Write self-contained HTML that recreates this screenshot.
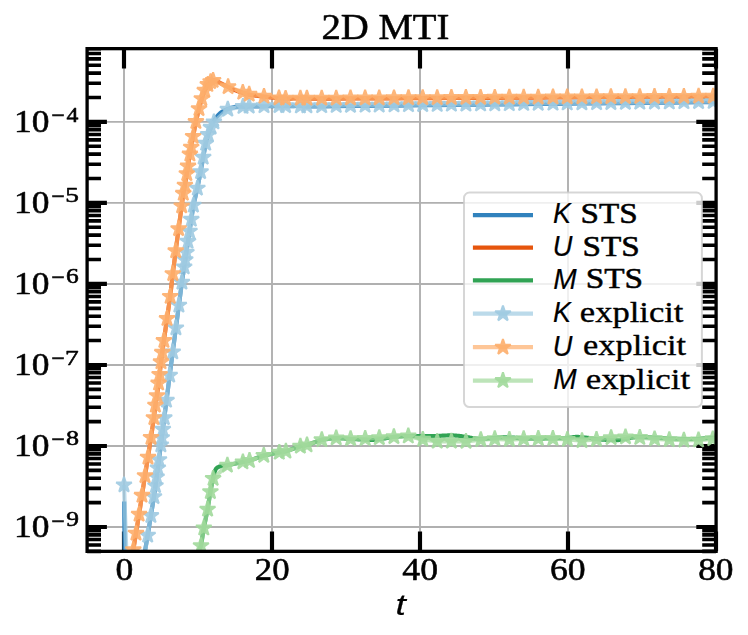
<!DOCTYPE html>
<html><head><meta charset="utf-8"><title>2D MTI</title>
<style>html,body{margin:0;padding:0;background:#fff}svg{display:block}</style></head><body>
<svg width="748" height="635" viewBox="0 0 748 635">
<rect width="748" height="635" fill="#fff"/>
<defs><clipPath id="ax"><rect x="87.1" y="48.65" width="629.0" height="502.70000000000005"/></clipPath></defs>
<path d="M124.00 48.65V551.35M272.00 48.65V551.35M420.00 48.65V551.35M568.00 48.65V551.35M716.00 48.65V551.35M87.1 527.00H716.1M87.1 445.98H716.1M87.1 364.96H716.1M87.1 283.94H716.1M87.1 202.92H716.1M87.1 121.90H716.1" stroke="#b0b0b0" stroke-width="1.9" fill="none"/>
<path d="M124.00 551.35v-19.8M124.00 48.65v19.8M272.00 551.35v-19.8M272.00 48.65v19.8M420.00 551.35v-19.8M420.00 48.65v19.8M568.00 551.35v-19.8M568.00 48.65v19.8M716.00 551.35v-19.8M716.00 48.65v19.8M87.1 527.00h19.8M716.1 527.00h-19.8M87.1 445.98h19.8M716.1 445.98h-19.8M87.1 364.96h19.8M716.1 364.96h-19.8M87.1 283.94h19.8M716.1 283.94h-19.8M87.1 202.92h19.8M716.1 202.92h-19.8M87.1 121.90h19.8M716.1 121.90h-19.8" stroke="#000" stroke-width="4.15" fill="none"/>
<path d="M87.1 551.39h13.9M716.1 551.39h-13.9M87.1 544.97h13.9M716.1 544.97h-13.9M87.1 539.55h13.9M716.1 539.55h-13.9M87.1 534.85h13.9M716.1 534.85h-13.9M87.1 530.71h13.9M716.1 530.71h-13.9M87.1 502.61h13.9M716.1 502.61h-13.9M87.1 488.34h13.9M716.1 488.34h-13.9M87.1 478.22h13.9M716.1 478.22h-13.9M87.1 470.37h13.9M716.1 470.37h-13.9M87.1 463.95h13.9M716.1 463.95h-13.9M87.1 458.53h13.9M716.1 458.53h-13.9M87.1 453.83h13.9M716.1 453.83h-13.9M87.1 449.69h13.9M716.1 449.69h-13.9M87.1 421.59h13.9M716.1 421.59h-13.9M87.1 407.32h13.9M716.1 407.32h-13.9M87.1 397.20h13.9M716.1 397.20h-13.9M87.1 389.35h13.9M716.1 389.35h-13.9M87.1 382.93h13.9M716.1 382.93h-13.9M87.1 377.51h13.9M716.1 377.51h-13.9M87.1 372.81h13.9M716.1 372.81h-13.9M87.1 368.67h13.9M716.1 368.67h-13.9M87.1 340.57h13.9M716.1 340.57h-13.9M87.1 326.30h13.9M716.1 326.30h-13.9M87.1 316.18h13.9M716.1 316.18h-13.9M87.1 308.33h13.9M716.1 308.33h-13.9M87.1 301.91h13.9M716.1 301.91h-13.9M87.1 296.49h13.9M716.1 296.49h-13.9M87.1 291.79h13.9M716.1 291.79h-13.9M87.1 287.65h13.9M716.1 287.65h-13.9M87.1 259.55h13.9M716.1 259.55h-13.9M87.1 245.28h13.9M716.1 245.28h-13.9M87.1 235.16h13.9M716.1 235.16h-13.9M87.1 227.31h13.9M716.1 227.31h-13.9M87.1 220.89h13.9M716.1 220.89h-13.9M87.1 215.47h13.9M716.1 215.47h-13.9M87.1 210.77h13.9M716.1 210.77h-13.9M87.1 206.63h13.9M716.1 206.63h-13.9M87.1 178.53h13.9M716.1 178.53h-13.9M87.1 164.26h13.9M716.1 164.26h-13.9M87.1 154.14h13.9M716.1 154.14h-13.9M87.1 146.29h13.9M716.1 146.29h-13.9M87.1 139.87h13.9M716.1 139.87h-13.9M87.1 134.45h13.9M716.1 134.45h-13.9M87.1 129.75h13.9M716.1 129.75h-13.9M87.1 125.61h13.9M716.1 125.61h-13.9M87.1 97.51h13.9M716.1 97.51h-13.9M87.1 83.24h13.9M716.1 83.24h-13.9M87.1 73.12h13.9M716.1 73.12h-13.9M87.1 65.27h13.9M716.1 65.27h-13.9M87.1 58.85h13.9M716.1 58.85h-13.9M87.1 53.43h13.9M716.1 53.43h-13.9M87.1 48.73h13.9M716.1 48.73h-13.9" stroke="#000" stroke-width="3.6" fill="none"/>
<g clip-path="url(#ax)" fill="none" stroke-linejoin="round">
<path d="M124.20 501.50L124.60 551.00L124.80 575.00L135.00 660.00L141.80 571.00L145.00 551.00L147.70 535.30L150.90 515.60L154.00 496.70L155.49 485.70L156.66 477.00L157.88 468.00L159.00 459.70L160.86 445.00L161.78 437.70L162.85 429.30L164.30 417.80L166.51 400.40L169.70 375.30L172.75 352.00L175.91 328.00L178.90 305.20L181.92 282.30L184.20 267.00L185.27 259.80L186.37 252.40L188.01 241.40L189.53 231.20L191.29 219.40L193.40 205.20L197.40 188.20L200.60 171.80L203.20 157.30L205.70 143.40L208.20 134.60L211.00 127.40L211.15 127.03L211.35 126.52L211.58 125.93L211.84 125.26L212.13 124.57L212.42 123.87L212.71 123.20L213.00 122.60L213.29 122.04L213.58 121.49L213.88 120.95L214.19 120.42L214.50 119.90L214.83 119.39L215.16 118.89L215.50 118.40L215.85 117.92L216.20 117.44L216.57 116.98L216.94 116.53L217.32 116.08L217.70 115.64L218.10 115.22L218.50 114.80L218.90 114.39L219.29 114.00L219.67 113.62L220.08 113.25L220.50 112.88L220.95 112.52L221.45 112.16L222.00 111.80L222.60 111.43L223.24 111.07L223.92 110.70L224.64 110.34L225.38 109.98L226.16 109.64L226.97 109.31L227.80 109.00L228.67 108.70L229.60 108.40L230.56 108.12L231.54 107.84L232.54 107.59L233.54 107.36L234.53 107.16L235.50 107.00L236.46 106.88L237.42 106.80L238.38 106.76L239.34 106.74L240.29 106.73L241.22 106.73L242.13 106.72L243.00 106.70L243.78 106.67L244.44 106.64L245.04 106.62L245.64 106.59L246.30 106.57L247.08 106.55L248.02 106.52L249.20 106.50L250.64 106.47L252.29 106.45L254.11 106.42L256.05 106.39L258.06 106.37L260.08 106.34L262.08 106.32L264.00 106.30L265.82 106.28L267.59 106.27L269.33 106.26L271.09 106.25L272.90 106.24L274.80 106.23L276.82 106.22L279.00 106.20L281.52 106.18L284.40 106.15L287.50 106.12L290.64 106.09L293.66 106.06L296.40 106.04L298.71 106.02L300.40 106.00L306.90 106.49L321.70 106.33L336.20 106.17L350.50 106.02L365.10 105.86L379.20 105.71L394.00 105.55L408.50 105.39L422.70 105.24L437.20 105.08L451.40 104.93L465.90 104.77L480.60 104.61L494.80 104.46L509.30 104.30L523.70 104.15L538.20 103.99L553.00 103.83L567.20 103.68L581.90 103.52L596.60 103.36L610.90 103.20L625.40 103.05L639.80 102.89L654.50 102.73L669.30 102.57L683.90 102.42L698.60 102.26L713.20 102.10L727.80 101.94" stroke="#3182bd" stroke-width="4.17"/>
<path d="M124.60 600.00L127.90 575.00L130.60 556.00L133.30 549.80L136.00 533.20L139.10 514.30L142.00 495.40L145.00 475.70L148.00 457.20L151.00 437.50L153.90 417.80L155.40 405.20L157.00 395.70L158.60 383.10L159.60 374.50L161.00 361.90L162.30 352.40L163.90 340.60L167.00 318.60L170.20 296.50L172.80 273.70L175.70 250.90L178.60 228.80L181.70 206.00L183.30 193.40L184.90 185.20L186.80 173.70L188.00 166.10L189.90 154.10L191.20 147.20L193.10 136.50L195.90 121.60L199.00 108.70L201.80 98.70L204.80 90.40L207.80 84.60L210.60 81.70L210.60 81.80L210.76 81.68L210.96 81.52L211.21 81.32L211.49 81.11L211.78 80.89L212.07 80.69L212.35 80.52L212.60 80.40L212.83 80.32L213.05 80.25L213.25 80.21L213.46 80.19L213.68 80.19L213.90 80.20L214.14 80.24L214.40 80.30L214.68 80.39L214.98 80.50L215.29 80.64L215.61 80.80L215.94 80.97L216.28 81.15L216.64 81.33L217.00 81.50L217.35 81.66L217.67 81.80L217.99 81.93L218.32 82.08L218.70 82.24L219.14 82.44L219.67 82.69L220.30 83.00L221.06 83.39L221.95 83.84L222.92 84.35L223.96 84.89L225.02 85.44L226.09 85.99L227.12 86.52L228.10 87.00L229.03 87.45L229.94 87.89L230.83 88.32L231.72 88.74L232.60 89.14L233.49 89.54L234.39 89.93L235.30 90.30L236.23 90.66L237.18 91.02L238.14 91.37L239.10 91.70L240.05 92.02L241.00 92.33L241.91 92.62L242.80 92.90L243.65 93.16L244.46 93.40L245.24 93.63L246.01 93.84L246.78 94.04L247.56 94.23L248.36 94.42L249.20 94.60L250.07 94.78L250.96 94.94L251.86 95.10L252.78 95.25L253.71 95.39L254.64 95.53L255.57 95.67L256.50 95.80L257.43 95.93L258.36 96.05L259.30 96.16L260.24 96.28L261.18 96.38L262.12 96.49L263.06 96.59L264.00 96.70L264.94 96.81L265.88 96.91L266.81 97.01L267.75 97.11L268.69 97.21L269.62 97.31L270.56 97.41L271.50 97.50L272.44 97.59L273.40 97.69L274.35 97.78L275.31 97.88L276.25 97.96L277.19 98.05L278.11 98.13L279.00 98.20L279.81 98.27L280.52 98.34L281.18 98.40L281.84 98.46L282.56 98.51L283.39 98.55L284.39 98.58L285.60 98.60L287.16 98.60L289.07 98.59L291.20 98.56L293.41 98.52L295.57 98.49L297.55 98.45L299.20 98.42L300.40 98.40L306.90 98.74L321.70 98.67L336.20 98.59L350.50 98.52L365.10 98.45L379.20 98.38L394.00 98.31L408.50 98.23L422.70 98.16L437.20 98.09L451.40 98.02L465.90 97.95L480.60 97.87L494.80 97.80L509.30 97.73L523.70 97.66L538.20 97.58L553.00 97.51L567.20 97.44L581.90 97.37L596.60 97.29L610.90 97.22L625.40 97.15L639.80 97.08L654.50 97.00L669.30 96.93L683.90 96.86L698.60 96.78L713.20 96.71L727.80 96.64" stroke="#e6550d" stroke-width="4.17"/>
<path d="M196.20 570.00L198.75 551.00L201.00 545.70L203.80 528.10L207.60 509.30L210.40 491.70L213.10 478.50L213.10 478.50L213.20 478.07L213.32 477.49L213.47 476.79L213.64 476.03L213.82 475.22L214.01 474.43L214.20 473.67L214.40 473.00L214.59 472.38L214.77 471.77L214.95 471.17L215.14 470.59L215.36 470.04L215.60 469.52L215.88 469.04L216.20 468.60L216.55 468.21L216.92 467.87L217.32 467.57L217.75 467.29L218.22 467.05L218.75 466.82L219.34 466.61L220.00 466.40L220.80 466.20L221.77 466.02L222.84 465.86L223.94 465.71L225.01 465.58L225.99 465.47L226.80 465.38L227.40 465.30L242.90 462.00L249.50 460.60L263.80 455.50L279.30 452.40L285.90 451.20L300.40 446.30L307.00 445.00L321.80 439.80L322.91 439.66L324.39 439.46L326.15 439.21L328.10 438.95L330.17 438.69L332.26 438.47L334.30 438.30L336.20 438.20L338.00 438.19L339.80 438.24L341.59 438.33L343.39 438.46L345.19 438.61L346.99 438.76L348.79 438.89L350.60 439.00L352.47 439.09L354.42 439.17L356.40 439.25L358.38 439.33L360.29 439.41L362.09 439.48L363.75 439.54L365.20 439.60L366.42 439.66L367.44 439.72L368.30 439.77L369.06 439.83L369.76 439.87L370.45 439.90L371.18 439.91L372.00 439.90L372.89 439.87L373.80 439.82L374.73 439.76L375.66 439.69L376.58 439.60L377.51 439.51L378.41 439.41L379.30 439.30L380.16 439.19L380.99 439.06L381.80 438.93L382.61 438.79L383.43 438.65L384.25 438.50L385.11 438.35L386.00 438.20L386.89 438.04L387.74 437.88L388.59 437.71L389.47 437.54L390.41 437.37L391.44 437.20L392.59 437.04L393.90 436.90L395.44 436.76L397.22 436.62L399.16 436.48L401.17 436.36L403.18 436.24L405.09 436.14L406.82 436.06L408.30 436.00L409.50 435.97L410.49 435.98L411.33 436.01L412.06 436.05L412.75 436.10L413.43 436.15L414.16 436.18L415.00 436.20L415.93 436.20L416.89 436.19L417.87 436.18L418.87 436.16L419.87 436.14L420.87 436.12L421.85 436.11L422.80 436.10L423.73 436.10L424.65 436.10L425.55 436.10L426.45 436.10L427.34 436.10L428.23 436.10L429.11 436.10L430.00 436.10L430.88 436.09L431.76 436.09L432.64 436.08L433.51 436.08L434.38 436.06L435.25 436.05L436.13 436.03L437.00 436.00L437.87 435.96L438.74 435.92L439.60 435.86L440.47 435.81L441.34 435.75L442.21 435.69L443.10 435.64L444.00 435.60L444.92 435.56L445.86 435.52L446.82 435.48L447.78 435.45L448.74 435.42L449.68 435.40L450.61 435.39L451.50 435.40L452.35 435.42L453.16 435.44L453.94 435.48L454.71 435.52L455.49 435.57L456.29 435.64L457.12 435.71L458.00 435.80L458.94 435.90L459.94 436.02L460.97 436.15L462.02 436.29L463.08 436.44L464.12 436.59L465.13 436.75L466.10 436.90L467.02 437.06L467.89 437.22L468.74 437.40L469.58 437.57L470.41 437.75L471.25 437.91L472.11 438.06L473.00 438.20L473.92 438.32L474.88 438.44L475.85 438.55L476.83 438.65L477.81 438.74L478.77 438.81L479.70 438.86L480.60 438.90L481.45 438.91L482.25 438.90L483.03 438.88L483.79 438.84L484.55 438.79L485.33 438.73L486.14 438.66L487.00 438.60L487.91 438.53L488.87 438.45L489.85 438.36L490.85 438.26L491.86 438.17L492.86 438.07L493.84 437.98L494.80 437.90L495.73 437.82L496.64 437.75L497.54 437.68L498.43 437.61L499.31 437.54L500.20 437.49L501.09 437.44L502.00 437.40L502.92 437.37L503.85 437.36L504.80 437.35L505.74 437.34L506.67 437.35L507.60 437.36L508.51 437.38L509.40 437.40L510.26 437.43L511.08 437.46L511.89 437.51L512.68 437.56L513.48 437.61L514.29 437.67L515.13 437.73L516.00 437.80L516.86 437.88L517.69 437.97L518.50 438.07L519.35 438.17L520.26 438.27L521.26 438.36L522.40 438.44L523.70 438.50L525.19 438.54L526.86 438.57L528.67 438.59L530.57 438.61L532.52 438.61L534.49 438.61L536.43 438.61L538.30 438.60L540.13 438.59L541.95 438.58L543.78 438.56L545.61 438.54L547.43 438.51L549.26 438.48L551.08 438.44L552.90 438.40L554.75 438.36L556.65 438.31L558.56 438.26L560.46 438.20L562.33 438.14L564.12 438.07L565.82 437.99L567.40 437.90L568.83 437.79L570.14 437.64L571.34 437.48L572.48 437.31L573.59 437.16L574.69 437.03L575.81 436.94L577.00 436.90L578.23 436.92L579.48 436.98L580.74 437.09L582.01 437.21L583.27 437.36L584.53 437.51L585.77 437.66L587.00 437.80L588.21 437.94L589.41 438.09L590.60 438.25L591.78 438.41L592.96 438.57L594.14 438.72L595.32 438.87L596.50 439.00L597.67 439.12L598.82 439.24L599.95 439.35L601.09 439.46L602.25 439.55L603.45 439.64L604.69 439.73L606.00 439.80L607.41 439.87L608.93 439.94L610.51 440.01L612.12 440.07L613.72 440.11L615.26 440.14L616.70 440.13L618.00 440.10L619.16 440.03L620.21 439.93L621.19 439.80L622.09 439.66L622.96 439.50L623.80 439.33L624.64 439.16L625.50 439.00L626.35 438.84L627.16 438.66L627.95 438.47L628.73 438.28L629.51 438.09L630.31 437.91L631.13 437.75L632.00 437.60L632.97 437.47L634.04 437.34L635.17 437.22L636.31 437.11L637.39 437.02L638.37 436.93L639.19 436.86L639.80 436.80L654.60 437.70L669.30 438.50L683.90 439.00L698.50 438.90L712.80 437.70L727.40 437.00" stroke="#31a354" stroke-width="4.17"/>
<path d="M124.00 485.00L126.30 551.00L127.00 571.00L135.00 660.00L141.80 571.00L147.70 535.30L150.90 515.60L154.00 496.70L155.49 485.70L156.66 477.00L157.88 468.00L159.00 459.70L160.86 445.00L161.78 437.70L162.85 429.30L164.30 417.80L166.51 400.40L169.70 375.30L172.75 352.00L175.91 328.00L178.90 305.20L181.92 282.30L184.20 267.00L185.27 259.80L186.37 252.40L188.01 241.40L189.53 231.20L191.29 219.40L193.40 205.20L197.40 188.20L200.60 171.80L203.20 157.30L205.70 143.40L208.20 134.60L211.00 127.40L213.90 122.00L227.80 109.30L243.00 106.60L249.20 106.20L264.00 105.90L279.00 105.80L285.60 105.80L300.40 106.06L306.90 105.99L321.70 105.83L336.20 105.67L350.50 105.52L365.10 105.36L379.20 105.21L394.00 105.05L408.50 104.89L422.70 104.74L437.20 104.58L451.40 104.43L465.90 104.27L480.60 104.11L494.80 103.96L509.30 103.80L523.70 103.65L538.20 103.49L553.00 103.33L567.20 103.18L581.90 103.02L596.60 102.86L610.90 102.70L625.40 102.55L639.80 102.39L654.50 102.23L669.30 102.07L683.90 101.92L698.60 101.76L713.20 101.60L727.80 101.44" stroke="#9ecae1" stroke-width="4.17" stroke-opacity="0.7"/>
<path d="M124.95 476.49L123.05 476.49L121.43 481.47L116.20 481.47L115.61 483.28L119.85 486.35L118.23 491.32L119.77 492.44L124.00 489.37L128.23 492.44L129.77 491.32L128.15 486.35L132.39 483.28L131.80 481.47L126.57 481.47Z" fill="#9ecae1" fill-opacity="0.9" stroke="none"/>
<path d="M148.65 526.79L146.75 526.79L145.13 531.77L139.90 531.77L139.31 533.58L143.55 536.65L141.93 541.62L143.47 542.74L147.70 539.67L151.93 542.74L153.47 541.62L151.85 536.65L156.09 533.58L155.50 531.77L150.27 531.77Z" fill="#9ecae1" fill-opacity="0.9" stroke="none"/>
<path d="M151.85 507.09L149.95 507.09L148.33 512.07L143.10 512.07L142.51 513.88L146.75 516.95L145.13 521.92L146.67 523.04L150.90 519.97L155.13 523.04L156.67 521.92L155.05 516.95L159.29 513.88L158.70 512.07L153.47 512.07Z" fill="#9ecae1" fill-opacity="0.9" stroke="none"/>
<path d="M154.95 488.19L153.05 488.19L151.43 493.17L146.20 493.17L145.61 494.98L149.85 498.05L148.23 503.02L149.77 504.14L154.00 501.07L158.23 504.14L159.77 503.02L158.15 498.05L162.39 494.98L161.80 493.17L156.57 493.17Z" fill="#9ecae1" fill-opacity="0.9" stroke="none"/>
<path d="M156.44 477.19L154.54 477.19L152.92 482.17L147.69 482.17L147.10 483.98L151.33 487.05L149.72 492.02L151.25 493.14L155.49 490.07L159.72 493.14L161.26 492.02L159.64 487.05L163.87 483.98L163.29 482.17L158.05 482.17Z" fill="#9ecae1" fill-opacity="0.9" stroke="none"/>
<path d="M157.61 468.49L155.71 468.49L154.09 473.47L148.86 473.47L148.28 475.28L152.51 478.35L150.89 483.32L152.43 484.44L156.66 481.37L160.89 484.44L162.43 483.32L160.82 478.35L165.05 475.28L164.46 473.47L159.23 473.47Z" fill="#9ecae1" fill-opacity="0.9" stroke="none"/>
<path d="M158.83 459.49L156.93 459.49L155.31 464.47L150.08 464.47L149.49 466.28L153.72 469.35L152.11 474.32L153.65 475.44L157.88 472.37L162.11 475.44L163.65 474.32L162.03 469.35L166.26 466.28L165.68 464.47L160.45 464.47Z" fill="#9ecae1" fill-opacity="0.9" stroke="none"/>
<path d="M159.95 451.19L158.05 451.19L156.43 456.17L151.20 456.17L150.61 457.98L154.85 461.05L153.23 466.02L154.77 467.14L159.00 464.07L163.23 467.14L164.77 466.02L163.15 461.05L167.39 457.98L166.80 456.17L161.57 456.17Z" fill="#9ecae1" fill-opacity="0.9" stroke="none"/>
<path d="M161.81 436.49L159.91 436.49L158.29 441.47L153.06 441.47L152.47 443.28L156.71 446.35L155.09 451.32L156.63 452.44L160.86 449.37L165.09 452.44L166.63 451.32L165.01 446.35L169.25 443.28L168.66 441.47L163.43 441.47Z" fill="#9ecae1" fill-opacity="0.9" stroke="none"/>
<path d="M162.73 429.19L160.83 429.19L159.22 434.17L153.98 434.17L153.40 435.98L157.63 439.05L156.01 444.02L157.55 445.14L161.78 442.07L166.01 445.14L167.55 444.02L165.94 439.05L170.17 435.98L169.58 434.17L164.35 434.17Z" fill="#9ecae1" fill-opacity="0.9" stroke="none"/>
<path d="M163.80 420.79L161.89 420.79L160.28 425.77L155.05 425.77L154.46 427.58L158.69 430.65L157.07 435.62L158.61 436.74L162.85 433.67L167.08 436.74L168.62 435.62L167.00 430.65L171.23 427.58L170.64 425.77L165.41 425.77Z" fill="#9ecae1" fill-opacity="0.9" stroke="none"/>
<path d="M165.25 409.29L163.35 409.29L161.73 414.27L156.50 414.27L155.91 416.08L160.15 419.15L158.53 424.12L160.07 425.24L164.30 422.17L168.53 425.24L170.07 424.12L168.45 419.15L172.69 416.08L172.10 414.27L166.87 414.27Z" fill="#9ecae1" fill-opacity="0.9" stroke="none"/>
<path d="M167.46 391.89L165.56 391.89L163.94 396.87L158.71 396.87L158.12 398.68L162.36 401.75L160.74 406.72L162.28 407.84L166.51 404.77L170.74 407.84L172.28 406.72L170.66 401.75L174.90 398.68L174.31 396.87L169.08 396.87Z" fill="#9ecae1" fill-opacity="0.9" stroke="none"/>
<path d="M170.65 366.79L168.75 366.79L167.13 371.77L161.90 371.77L161.31 373.58L165.54 376.65L163.93 381.62L165.47 382.74L169.70 379.67L173.93 382.74L175.47 381.62L173.85 376.65L178.08 373.58L177.50 371.77L172.27 371.77Z" fill="#9ecae1" fill-opacity="0.9" stroke="none"/>
<path d="M173.71 343.49L171.80 343.49L170.19 348.47L164.96 348.47L164.37 350.28L168.60 353.35L166.98 358.32L168.52 359.44L172.75 356.37L176.99 359.44L178.52 358.32L176.91 353.35L181.14 350.28L180.55 348.47L175.32 348.47Z" fill="#9ecae1" fill-opacity="0.9" stroke="none"/>
<path d="M176.86 319.49L174.95 319.49L173.34 324.47L168.11 324.47L167.52 326.28L171.75 329.35L170.13 334.32L171.67 335.44L175.91 332.37L180.14 335.44L181.68 334.32L180.06 329.35L184.29 326.28L183.70 324.47L178.47 324.47Z" fill="#9ecae1" fill-opacity="0.9" stroke="none"/>
<path d="M179.85 296.69L177.95 296.69L176.33 301.67L171.10 301.67L170.51 303.48L174.74 306.55L173.13 311.52L174.67 312.64L178.90 309.57L183.13 312.64L184.67 311.52L183.05 306.55L187.28 303.48L186.70 301.67L181.47 301.67Z" fill="#9ecae1" fill-opacity="0.9" stroke="none"/>
<path d="M182.87 273.79L180.97 273.79L179.35 278.77L174.12 278.77L173.53 280.58L177.76 283.65L176.15 288.62L177.69 289.74L181.92 286.67L186.15 289.74L187.69 288.62L186.07 283.65L190.31 280.58L189.72 278.77L184.49 278.77Z" fill="#9ecae1" fill-opacity="0.9" stroke="none"/>
<path d="M185.15 258.49L183.25 258.49L181.63 263.47L176.40 263.47L175.81 265.28L180.04 268.35L178.43 273.32L179.97 274.44L184.20 271.37L188.43 274.44L189.97 273.32L188.35 268.35L192.58 265.28L192.00 263.47L186.76 263.47Z" fill="#9ecae1" fill-opacity="0.9" stroke="none"/>
<path d="M186.22 251.29L184.32 251.29L182.70 256.27L177.47 256.27L176.88 258.08L181.12 261.15L179.50 266.12L181.04 267.24L185.27 264.17L189.50 267.24L191.04 266.12L189.42 261.15L193.66 258.08L193.07 256.27L187.84 256.27Z" fill="#9ecae1" fill-opacity="0.9" stroke="none"/>
<path d="M187.32 243.89L185.42 243.89L183.80 248.87L178.57 248.87L177.99 250.68L182.22 253.75L180.60 258.72L182.14 259.84L186.37 256.77L190.60 259.84L192.14 258.72L190.53 253.75L194.76 250.68L194.17 248.87L188.94 248.87Z" fill="#9ecae1" fill-opacity="0.9" stroke="none"/>
<path d="M188.96 232.89L187.06 232.89L185.44 237.87L180.21 237.87L179.62 239.68L183.86 242.75L182.24 247.72L183.78 248.84L188.01 245.77L192.24 248.84L193.78 247.72L192.16 242.75L196.40 239.68L195.81 237.87L190.58 237.87Z" fill="#9ecae1" fill-opacity="0.9" stroke="none"/>
<path d="M190.48 222.69L188.58 222.69L186.96 227.67L181.73 227.67L181.14 229.48L185.37 232.55L183.76 237.52L185.30 238.64L189.53 235.57L193.76 238.64L195.30 237.52L193.68 232.55L197.91 229.48L197.33 227.67L192.10 227.67Z" fill="#9ecae1" fill-opacity="0.9" stroke="none"/>
<path d="M192.24 210.89L190.33 210.89L188.72 215.87L183.49 215.87L182.90 217.68L187.13 220.75L185.51 225.72L187.05 226.84L191.29 223.77L195.52 226.84L197.06 225.72L195.44 220.75L199.67 217.68L199.08 215.87L193.85 215.87Z" fill="#9ecae1" fill-opacity="0.9" stroke="none"/>
<path d="M194.35 196.69L192.45 196.69L190.83 201.67L185.60 201.67L185.01 203.48L189.25 206.55L187.63 211.52L189.17 212.64L193.40 209.57L197.63 212.64L199.17 211.52L197.55 206.55L201.79 203.48L201.20 201.67L195.97 201.67Z" fill="#9ecae1" fill-opacity="0.9" stroke="none"/>
<path d="M198.35 179.69L196.45 179.69L194.83 184.67L189.60 184.67L189.01 186.48L193.25 189.55L191.63 194.52L193.17 195.64L197.40 192.57L201.63 195.64L203.17 194.52L201.55 189.55L205.79 186.48L205.20 184.67L199.97 184.67Z" fill="#9ecae1" fill-opacity="0.9" stroke="none"/>
<path d="M201.55 163.29L199.65 163.29L198.03 168.27L192.80 168.27L192.21 170.08L196.45 173.15L194.83 178.12L196.37 179.24L200.60 176.17L204.83 179.24L206.37 178.12L204.75 173.15L208.99 170.08L208.40 168.27L203.17 168.27Z" fill="#9ecae1" fill-opacity="0.9" stroke="none"/>
<path d="M204.15 148.79L202.25 148.79L200.63 153.77L195.40 153.77L194.81 155.58L199.05 158.65L197.43 163.62L198.97 164.74L203.20 161.67L207.43 164.74L208.97 163.62L207.35 158.65L211.59 155.58L211.00 153.77L205.77 153.77Z" fill="#9ecae1" fill-opacity="0.9" stroke="none"/>
<path d="M206.65 134.89L204.75 134.89L203.13 139.87L197.90 139.87L197.31 141.68L201.55 144.75L199.93 149.72L201.47 150.84L205.70 147.77L209.93 150.84L211.47 149.72L209.85 144.75L214.09 141.68L213.50 139.87L208.27 139.87Z" fill="#9ecae1" fill-opacity="0.9" stroke="none"/>
<path d="M209.15 126.09L207.25 126.09L205.63 131.07L200.40 131.07L199.81 132.88L204.05 135.95L202.43 140.92L203.97 142.04L208.20 138.97L212.43 142.04L213.97 140.92L212.35 135.95L216.59 132.88L216.00 131.07L210.77 131.07Z" fill="#9ecae1" fill-opacity="0.9" stroke="none"/>
<path d="M211.95 118.89L210.05 118.89L208.43 123.87L203.20 123.87L202.61 125.68L206.85 128.75L205.23 133.72L206.77 134.84L211.00 131.77L215.23 134.84L216.77 133.72L215.15 128.75L219.39 125.68L218.80 123.87L213.57 123.87Z" fill="#9ecae1" fill-opacity="0.9" stroke="none"/>
<path d="M214.85 113.49L212.95 113.49L211.33 118.47L206.10 118.47L205.51 120.28L209.75 123.35L208.13 128.32L209.67 129.44L213.90 126.37L218.13 129.44L219.67 128.32L218.05 123.35L222.29 120.28L221.70 118.47L216.47 118.47Z" fill="#9ecae1" fill-opacity="0.9" stroke="none"/>
<path d="M228.75 100.79L226.85 100.79L225.23 105.77L220.00 105.77L219.41 107.58L223.65 110.65L222.03 115.62L223.57 116.74L227.80 113.67L232.03 116.74L233.57 115.62L231.95 110.65L236.19 107.58L235.60 105.77L230.37 105.77Z" fill="#9ecae1" fill-opacity="0.9" stroke="none"/>
<path d="M243.95 98.09L242.05 98.09L240.43 103.07L235.20 103.07L234.61 104.88L238.85 107.95L237.23 112.92L238.77 114.04L243.00 110.97L247.23 114.04L248.77 112.92L247.15 107.95L251.39 104.88L250.80 103.07L245.57 103.07Z" fill="#9ecae1" fill-opacity="0.9" stroke="none"/>
<path d="M250.15 97.69L248.25 97.69L246.63 102.67L241.40 102.67L240.81 104.48L245.05 107.55L243.43 112.52L244.97 113.64L249.20 110.57L253.43 113.64L254.97 112.52L253.35 107.55L257.59 104.48L257.00 102.67L251.77 102.67Z" fill="#9ecae1" fill-opacity="0.9" stroke="none"/>
<path d="M264.95 97.39L263.05 97.39L261.43 102.37L256.20 102.37L255.61 104.18L259.85 107.25L258.23 112.22L259.77 113.34L264.00 110.27L268.23 113.34L269.77 112.22L268.15 107.25L272.39 104.18L271.80 102.37L266.57 102.37Z" fill="#9ecae1" fill-opacity="0.9" stroke="none"/>
<path d="M279.95 97.29L278.05 97.29L276.43 102.27L271.20 102.27L270.61 104.08L274.85 107.15L273.23 112.12L274.77 113.24L279.00 110.17L283.23 113.24L284.77 112.12L283.15 107.15L287.39 104.08L286.80 102.27L281.57 102.27Z" fill="#9ecae1" fill-opacity="0.9" stroke="none"/>
<path d="M286.55 97.29L284.65 97.29L283.03 102.27L277.80 102.27L277.21 104.08L281.45 107.15L279.83 112.12L281.37 113.24L285.60 110.17L289.83 113.24L291.37 112.12L289.75 107.15L293.99 104.08L293.40 102.27L288.17 102.27Z" fill="#9ecae1" fill-opacity="0.9" stroke="none"/>
<path d="M301.35 97.55L299.45 97.55L297.83 102.52L292.60 102.52L292.01 104.33L296.25 107.41L294.63 112.38L296.17 113.50L300.40 110.43L304.63 113.50L306.17 112.38L304.55 107.41L308.79 104.33L308.20 102.52L302.97 102.52Z" fill="#9ecae1" fill-opacity="0.9" stroke="none"/>
<path d="M307.85 97.48L305.95 97.48L304.33 102.45L299.10 102.45L298.51 104.26L302.75 107.34L301.13 112.31L302.67 113.43L306.90 110.36L311.13 113.43L312.67 112.31L311.05 107.34L315.29 104.26L314.70 102.45L309.47 102.45Z" fill="#9ecae1" fill-opacity="0.9" stroke="none"/>
<path d="M322.65 97.32L320.75 97.32L319.13 102.29L313.90 102.29L313.31 104.10L317.55 107.18L315.93 112.15L317.47 113.27L321.70 110.20L325.93 113.27L327.47 112.15L325.85 107.18L330.09 104.10L329.50 102.29L324.27 102.29Z" fill="#9ecae1" fill-opacity="0.9" stroke="none"/>
<path d="M337.15 97.16L335.25 97.16L333.63 102.14L328.40 102.14L327.81 103.95L332.05 107.02L330.43 112.00L331.97 113.11L336.20 110.04L340.43 113.11L341.97 112.00L340.35 107.02L344.59 103.95L344.00 102.14L338.77 102.14Z" fill="#9ecae1" fill-opacity="0.9" stroke="none"/>
<path d="M351.45 97.01L349.55 97.01L347.93 101.98L342.70 101.98L342.11 103.79L346.35 106.87L344.73 111.84L346.27 112.96L350.50 109.88L354.73 112.96L356.27 111.84L354.65 106.87L358.89 103.79L358.30 101.98L353.07 101.98Z" fill="#9ecae1" fill-opacity="0.9" stroke="none"/>
<path d="M366.05 96.85L364.15 96.85L362.53 101.82L357.30 101.82L356.71 103.63L360.95 106.71L359.33 111.68L360.87 112.80L365.10 109.73L369.33 112.80L370.87 111.68L369.25 106.71L373.49 103.63L372.90 101.82L367.67 101.82Z" fill="#9ecae1" fill-opacity="0.9" stroke="none"/>
<path d="M380.15 96.70L378.25 96.70L376.63 101.67L371.40 101.67L370.81 103.48L375.05 106.56L373.43 111.53L374.97 112.65L379.20 109.57L383.43 112.65L384.97 111.53L383.35 106.56L387.59 103.48L387.00 101.67L381.77 101.67Z" fill="#9ecae1" fill-opacity="0.9" stroke="none"/>
<path d="M394.95 96.54L393.05 96.54L391.43 101.51L386.20 101.51L385.61 103.32L389.85 106.40L388.23 111.37L389.77 112.49L394.00 109.41L398.23 112.49L399.77 111.37L398.15 106.40L402.39 103.32L401.80 101.51L396.57 101.51Z" fill="#9ecae1" fill-opacity="0.9" stroke="none"/>
<path d="M409.45 96.38L407.55 96.38L405.93 101.36L400.70 101.36L400.11 103.17L404.35 106.24L402.73 111.22L404.27 112.33L408.50 109.26L412.73 112.33L414.27 111.22L412.65 106.24L416.89 103.17L416.30 101.36L411.07 101.36Z" fill="#9ecae1" fill-opacity="0.9" stroke="none"/>
<path d="M423.65 96.23L421.75 96.23L420.13 101.20L414.90 101.20L414.31 103.01L418.55 106.09L416.93 111.06L418.47 112.18L422.70 109.11L426.93 112.18L428.47 111.06L426.85 106.09L431.09 103.01L430.50 101.20L425.27 101.20Z" fill="#9ecae1" fill-opacity="0.9" stroke="none"/>
<path d="M438.15 96.07L436.25 96.07L434.63 101.05L429.40 101.05L428.81 102.86L433.05 105.93L431.43 110.91L432.97 112.02L437.20 108.95L441.43 112.02L442.97 110.91L441.35 105.93L445.59 102.86L445.00 101.05L439.77 101.05Z" fill="#9ecae1" fill-opacity="0.9" stroke="none"/>
<path d="M452.35 95.92L450.45 95.92L448.83 100.89L443.60 100.89L443.01 102.70L447.25 105.78L445.63 110.75L447.17 111.87L451.40 108.80L455.63 111.87L457.17 110.75L455.55 105.78L459.79 102.70L459.20 100.89L453.97 100.89Z" fill="#9ecae1" fill-opacity="0.9" stroke="none"/>
<path d="M466.85 95.76L464.95 95.76L463.33 100.74L458.10 100.74L457.51 102.55L461.75 105.62L460.13 110.60L461.67 111.71L465.90 108.64L470.13 111.71L471.67 110.60L470.05 105.62L474.29 102.55L473.70 100.74L468.47 100.74Z" fill="#9ecae1" fill-opacity="0.9" stroke="none"/>
<path d="M481.55 95.60L479.65 95.60L478.03 100.58L472.80 100.58L472.21 102.39L476.45 105.46L474.83 110.44L476.37 111.55L480.60 108.48L484.83 111.55L486.37 110.44L484.75 105.46L488.99 102.39L488.40 100.58L483.17 100.58Z" fill="#9ecae1" fill-opacity="0.9" stroke="none"/>
<path d="M495.75 95.45L493.85 95.45L492.23 100.42L487.00 100.42L486.41 102.23L490.65 105.31L489.03 110.28L490.57 111.40L494.80 108.33L499.03 111.40L500.57 110.28L498.95 105.31L503.19 102.23L502.60 100.42L497.37 100.42Z" fill="#9ecae1" fill-opacity="0.9" stroke="none"/>
<path d="M510.25 95.29L508.35 95.29L506.73 100.27L501.50 100.27L500.91 102.08L505.15 105.15L503.53 110.13L505.07 111.24L509.30 108.17L513.53 111.24L515.07 110.13L513.45 105.15L517.69 102.08L517.10 100.27L511.87 100.27Z" fill="#9ecae1" fill-opacity="0.9" stroke="none"/>
<path d="M524.65 95.14L522.75 95.14L521.13 100.11L515.90 100.11L515.31 101.92L519.55 105.00L517.93 109.97L519.47 111.09L523.70 108.01L527.93 111.09L529.47 109.97L527.85 105.00L532.09 101.92L531.50 100.11L526.27 100.11Z" fill="#9ecae1" fill-opacity="0.9" stroke="none"/>
<path d="M539.15 94.98L537.25 94.98L535.63 99.96L530.40 99.96L529.81 101.76L534.05 104.84L532.43 109.81L533.97 110.93L538.20 107.86L542.43 110.93L543.97 109.81L542.35 104.84L546.59 101.76L546.00 99.96L540.77 99.96Z" fill="#9ecae1" fill-opacity="0.9" stroke="none"/>
<path d="M553.95 94.82L552.05 94.82L550.43 99.80L545.20 99.80L544.61 101.60L548.85 104.68L547.23 109.65L548.77 110.77L553.00 107.70L557.23 110.77L558.77 109.65L557.15 104.68L561.39 101.60L560.80 99.80L555.57 99.80Z" fill="#9ecae1" fill-opacity="0.9" stroke="none"/>
<path d="M568.15 94.67L566.25 94.67L564.63 99.64L559.40 99.64L558.81 101.45L563.05 104.53L561.43 109.50L562.97 110.62L567.20 107.54L571.43 110.62L572.97 109.50L571.35 104.53L575.59 101.45L575.00 99.64L569.77 99.64Z" fill="#9ecae1" fill-opacity="0.9" stroke="none"/>
<path d="M582.85 94.51L580.95 94.51L579.33 99.48L574.10 99.48L573.51 101.29L577.75 104.37L576.13 109.34L577.67 110.46L581.90 107.39L586.13 110.46L587.67 109.34L586.05 104.37L590.29 101.29L589.70 99.48L584.47 99.48Z" fill="#9ecae1" fill-opacity="0.9" stroke="none"/>
<path d="M597.55 94.35L595.65 94.35L594.03 99.32L588.80 99.32L588.21 101.13L592.45 104.21L590.83 109.18L592.37 110.30L596.60 107.23L600.83 110.30L602.37 109.18L600.75 104.21L604.99 101.13L604.40 99.32L599.17 99.32Z" fill="#9ecae1" fill-opacity="0.9" stroke="none"/>
<path d="M611.85 94.20L609.95 94.20L608.33 99.17L603.10 99.17L602.51 100.98L606.75 104.05L605.13 109.03L606.67 110.15L610.90 107.07L615.13 110.15L616.67 109.03L615.05 104.05L619.29 100.98L618.70 99.17L613.47 99.17Z" fill="#9ecae1" fill-opacity="0.9" stroke="none"/>
<path d="M626.35 94.04L624.45 94.04L622.83 99.01L617.60 99.01L617.01 100.82L621.25 103.90L619.63 108.87L621.17 109.99L625.40 106.92L629.63 109.99L631.17 108.87L629.55 103.90L633.79 100.82L633.20 99.01L627.97 99.01Z" fill="#9ecae1" fill-opacity="0.9" stroke="none"/>
<path d="M640.75 93.88L638.85 93.88L637.23 98.86L632.00 98.86L631.41 100.67L635.65 103.74L634.03 108.72L635.57 109.84L639.80 106.76L644.03 109.84L645.57 108.72L643.95 103.74L648.19 100.67L647.60 98.86L642.37 98.86Z" fill="#9ecae1" fill-opacity="0.9" stroke="none"/>
<path d="M655.45 93.72L653.55 93.72L651.93 98.70L646.70 98.70L646.11 100.51L650.35 103.58L648.73 108.56L650.27 109.68L654.50 106.60L658.73 109.68L660.27 108.56L658.65 103.58L662.89 100.51L662.30 98.70L657.07 98.70Z" fill="#9ecae1" fill-opacity="0.9" stroke="none"/>
<path d="M670.25 93.56L668.35 93.56L666.73 98.54L661.50 98.54L660.91 100.35L665.15 103.42L663.53 108.40L665.07 109.52L669.30 106.44L673.53 109.52L675.07 108.40L673.45 103.42L677.69 100.35L677.10 98.54L671.87 98.54Z" fill="#9ecae1" fill-opacity="0.9" stroke="none"/>
<path d="M684.85 93.41L682.95 93.41L681.33 98.38L676.10 98.38L675.51 100.19L679.75 103.27L678.13 108.24L679.67 109.36L683.90 106.28L688.13 109.36L689.67 108.24L688.05 103.27L692.29 100.19L691.70 98.38L686.47 98.38Z" fill="#9ecae1" fill-opacity="0.9" stroke="none"/>
<path d="M699.55 93.25L697.65 93.25L696.03 98.22L690.80 98.22L690.21 100.03L694.45 103.11L692.83 108.08L694.37 109.20L698.60 106.13L702.83 109.20L704.37 108.08L702.75 103.11L706.99 100.03L706.40 98.22L701.17 98.22Z" fill="#9ecae1" fill-opacity="0.9" stroke="none"/>
<path d="M714.15 93.09L712.25 93.09L710.63 98.07L705.40 98.07L704.81 99.87L709.05 102.95L707.43 107.92L708.97 109.04L713.20 105.97L717.43 109.04L718.97 107.92L717.35 102.95L721.59 99.87L721.00 98.07L715.77 98.07Z" fill="#9ecae1" fill-opacity="0.9" stroke="none"/>
<path d="M728.75 92.93L726.85 92.93L725.23 97.91L720.00 97.91L719.41 99.72L723.65 102.79L722.03 107.77L723.57 108.88L727.80 105.81L732.03 108.88L733.57 107.77L731.95 102.79L736.19 99.72L735.60 97.91L730.37 97.91Z" fill="#9ecae1" fill-opacity="0.9" stroke="none"/>
<path d="M124.60 600.00L127.90 575.00L130.60 556.00L133.30 549.80L136.00 533.20L139.10 514.30L142.00 495.40L145.00 475.70L148.00 457.20L151.00 437.50L153.90 417.80L155.40 405.20L157.00 395.70L158.60 383.10L159.60 374.50L161.00 361.90L162.30 352.40L163.90 340.60L167.00 318.60L170.20 296.50L172.80 273.70L175.70 250.90L178.60 228.80L181.70 206.00L183.30 193.40L184.90 185.20L186.80 173.70L188.00 166.10L189.90 154.10L191.20 147.20L193.10 136.50L195.90 121.60L199.00 108.70L201.80 98.70L204.80 90.40L207.80 84.60L210.60 81.70L213.10 80.50L228.10 86.80L242.80 92.40L249.20 94.30L264.00 96.40L279.00 98.00L285.60 98.40L300.40 98.37L306.90 98.34L321.70 98.27L336.20 98.19L350.50 98.12L365.10 98.05L379.20 97.98L394.00 97.91L408.50 97.83L422.70 97.76L437.20 97.69L451.40 97.62L465.90 97.55L480.60 97.47L494.80 97.40L509.30 97.33L523.70 97.26L538.20 97.18L553.00 97.11L567.20 97.04L581.90 96.97L596.60 96.89L610.90 96.82L625.40 96.75L639.80 96.68L654.50 96.60L669.30 96.53L683.90 96.46L698.60 96.38L713.20 96.31L727.80 96.24" stroke="#fdae6b" stroke-width="4.17" stroke-opacity="0.7"/>
<path d="M134.25 541.29L132.35 541.29L130.73 546.27L125.50 546.27L124.91 548.08L129.15 551.15L127.53 556.12L129.07 557.24L133.30 554.17L137.53 557.24L139.07 556.12L137.45 551.15L141.69 548.08L141.10 546.27L135.87 546.27Z" fill="#fdae6b" fill-opacity="0.9" stroke="none"/>
<path d="M136.95 524.69L135.05 524.69L133.43 529.67L128.20 529.67L127.61 531.48L131.85 534.55L130.23 539.52L131.77 540.64L136.00 537.57L140.23 540.64L141.77 539.52L140.15 534.55L144.39 531.48L143.80 529.67L138.57 529.67Z" fill="#fdae6b" fill-opacity="0.9" stroke="none"/>
<path d="M140.05 505.79L138.15 505.79L136.53 510.77L131.30 510.77L130.71 512.58L134.95 515.65L133.33 520.62L134.87 521.74L139.10 518.67L143.33 521.74L144.87 520.62L143.25 515.65L147.49 512.58L146.90 510.77L141.67 510.77Z" fill="#fdae6b" fill-opacity="0.9" stroke="none"/>
<path d="M142.95 486.89L141.05 486.89L139.43 491.87L134.20 491.87L133.61 493.68L137.85 496.75L136.23 501.72L137.77 502.84L142.00 499.77L146.23 502.84L147.77 501.72L146.15 496.75L150.39 493.68L149.80 491.87L144.57 491.87Z" fill="#fdae6b" fill-opacity="0.9" stroke="none"/>
<path d="M145.95 467.19L144.05 467.19L142.43 472.17L137.20 472.17L136.61 473.98L140.85 477.05L139.23 482.02L140.77 483.14L145.00 480.07L149.23 483.14L150.77 482.02L149.15 477.05L153.39 473.98L152.80 472.17L147.57 472.17Z" fill="#fdae6b" fill-opacity="0.9" stroke="none"/>
<path d="M148.95 448.69L147.05 448.69L145.43 453.67L140.20 453.67L139.61 455.48L143.85 458.55L142.23 463.52L143.77 464.64L148.00 461.57L152.23 464.64L153.77 463.52L152.15 458.55L156.39 455.48L155.80 453.67L150.57 453.67Z" fill="#fdae6b" fill-opacity="0.9" stroke="none"/>
<path d="M151.95 428.99L150.05 428.99L148.43 433.97L143.20 433.97L142.61 435.78L146.85 438.85L145.23 443.82L146.77 444.94L151.00 441.87L155.23 444.94L156.77 443.82L155.15 438.85L159.39 435.78L158.80 433.97L153.57 433.97Z" fill="#fdae6b" fill-opacity="0.9" stroke="none"/>
<path d="M154.85 409.29L152.95 409.29L151.33 414.27L146.10 414.27L145.51 416.08L149.75 419.15L148.13 424.12L149.67 425.24L153.90 422.17L158.13 425.24L159.67 424.12L158.05 419.15L162.29 416.08L161.70 414.27L156.47 414.27Z" fill="#fdae6b" fill-opacity="0.9" stroke="none"/>
<path d="M156.35 396.69L154.45 396.69L152.83 401.67L147.60 401.67L147.01 403.48L151.25 406.55L149.63 411.52L151.17 412.64L155.40 409.57L159.63 412.64L161.17 411.52L159.55 406.55L163.79 403.48L163.20 401.67L157.97 401.67Z" fill="#fdae6b" fill-opacity="0.9" stroke="none"/>
<path d="M157.95 387.19L156.05 387.19L154.43 392.17L149.20 392.17L148.61 393.98L152.85 397.05L151.23 402.02L152.77 403.14L157.00 400.07L161.23 403.14L162.77 402.02L161.15 397.05L165.39 393.98L164.80 392.17L159.57 392.17Z" fill="#fdae6b" fill-opacity="0.9" stroke="none"/>
<path d="M159.55 374.59L157.65 374.59L156.03 379.57L150.80 379.57L150.21 381.38L154.45 384.45L152.83 389.42L154.37 390.54L158.60 387.47L162.83 390.54L164.37 389.42L162.75 384.45L166.99 381.38L166.40 379.57L161.17 379.57Z" fill="#fdae6b" fill-opacity="0.9" stroke="none"/>
<path d="M160.55 365.99L158.65 365.99L157.03 370.97L151.80 370.97L151.21 372.78L155.45 375.85L153.83 380.82L155.37 381.94L159.60 378.87L163.83 381.94L165.37 380.82L163.75 375.85L167.99 372.78L167.40 370.97L162.17 370.97Z" fill="#fdae6b" fill-opacity="0.9" stroke="none"/>
<path d="M161.95 353.39L160.05 353.39L158.43 358.37L153.20 358.37L152.61 360.18L156.85 363.25L155.23 368.22L156.77 369.34L161.00 366.27L165.23 369.34L166.77 368.22L165.15 363.25L169.39 360.18L168.80 358.37L163.57 358.37Z" fill="#fdae6b" fill-opacity="0.9" stroke="none"/>
<path d="M163.25 343.89L161.35 343.89L159.73 348.87L154.50 348.87L153.91 350.68L158.15 353.75L156.53 358.72L158.07 359.84L162.30 356.77L166.53 359.84L168.07 358.72L166.45 353.75L170.69 350.68L170.10 348.87L164.87 348.87Z" fill="#fdae6b" fill-opacity="0.9" stroke="none"/>
<path d="M164.85 332.09L162.95 332.09L161.33 337.07L156.10 337.07L155.51 338.88L159.75 341.95L158.13 346.92L159.67 348.04L163.90 344.97L168.13 348.04L169.67 346.92L168.05 341.95L172.29 338.88L171.70 337.07L166.47 337.07Z" fill="#fdae6b" fill-opacity="0.9" stroke="none"/>
<path d="M167.95 310.09L166.05 310.09L164.43 315.07L159.20 315.07L158.61 316.88L162.85 319.95L161.23 324.92L162.77 326.04L167.00 322.97L171.23 326.04L172.77 324.92L171.15 319.95L175.39 316.88L174.80 315.07L169.57 315.07Z" fill="#fdae6b" fill-opacity="0.9" stroke="none"/>
<path d="M171.15 287.99L169.25 287.99L167.63 292.97L162.40 292.97L161.81 294.78L166.05 297.85L164.43 302.82L165.97 303.94L170.20 300.87L174.43 303.94L175.97 302.82L174.35 297.85L178.59 294.78L178.00 292.97L172.77 292.97Z" fill="#fdae6b" fill-opacity="0.9" stroke="none"/>
<path d="M173.75 265.19L171.85 265.19L170.23 270.17L165.00 270.17L164.41 271.98L168.65 275.05L167.03 280.02L168.57 281.14L172.80 278.07L177.03 281.14L178.57 280.02L176.95 275.05L181.19 271.98L180.60 270.17L175.37 270.17Z" fill="#fdae6b" fill-opacity="0.9" stroke="none"/>
<path d="M176.65 242.39L174.75 242.39L173.13 247.37L167.90 247.37L167.31 249.18L171.55 252.25L169.93 257.22L171.47 258.34L175.70 255.27L179.93 258.34L181.47 257.22L179.85 252.25L184.09 249.18L183.50 247.37L178.27 247.37Z" fill="#fdae6b" fill-opacity="0.9" stroke="none"/>
<path d="M179.55 220.29L177.65 220.29L176.03 225.27L170.80 225.27L170.21 227.08L174.45 230.15L172.83 235.12L174.37 236.24L178.60 233.17L182.83 236.24L184.37 235.12L182.75 230.15L186.99 227.08L186.40 225.27L181.17 225.27Z" fill="#fdae6b" fill-opacity="0.9" stroke="none"/>
<path d="M182.65 197.49L180.75 197.49L179.13 202.47L173.90 202.47L173.31 204.28L177.55 207.35L175.93 212.32L177.47 213.44L181.70 210.37L185.93 213.44L187.47 212.32L185.85 207.35L190.09 204.28L189.50 202.47L184.27 202.47Z" fill="#fdae6b" fill-opacity="0.9" stroke="none"/>
<path d="M184.25 184.89L182.35 184.89L180.73 189.87L175.50 189.87L174.91 191.68L179.15 194.75L177.53 199.72L179.07 200.84L183.30 197.77L187.53 200.84L189.07 199.72L187.45 194.75L191.69 191.68L191.10 189.87L185.87 189.87Z" fill="#fdae6b" fill-opacity="0.9" stroke="none"/>
<path d="M185.85 176.69L183.95 176.69L182.33 181.67L177.10 181.67L176.51 183.48L180.75 186.55L179.13 191.52L180.67 192.64L184.90 189.57L189.13 192.64L190.67 191.52L189.05 186.55L193.29 183.48L192.70 181.67L187.47 181.67Z" fill="#fdae6b" fill-opacity="0.9" stroke="none"/>
<path d="M187.75 165.19L185.85 165.19L184.23 170.17L179.00 170.17L178.41 171.98L182.65 175.05L181.03 180.02L182.57 181.14L186.80 178.07L191.03 181.14L192.57 180.02L190.95 175.05L195.19 171.98L194.60 170.17L189.37 170.17Z" fill="#fdae6b" fill-opacity="0.9" stroke="none"/>
<path d="M188.95 157.59L187.05 157.59L185.43 162.57L180.20 162.57L179.61 164.38L183.85 167.45L182.23 172.42L183.77 173.54L188.00 170.47L192.23 173.54L193.77 172.42L192.15 167.45L196.39 164.38L195.80 162.57L190.57 162.57Z" fill="#fdae6b" fill-opacity="0.9" stroke="none"/>
<path d="M190.85 145.59L188.95 145.59L187.33 150.57L182.10 150.57L181.51 152.38L185.75 155.45L184.13 160.42L185.67 161.54L189.90 158.47L194.13 161.54L195.67 160.42L194.05 155.45L198.29 152.38L197.70 150.57L192.47 150.57Z" fill="#fdae6b" fill-opacity="0.9" stroke="none"/>
<path d="M192.15 138.69L190.25 138.69L188.63 143.67L183.40 143.67L182.81 145.48L187.05 148.55L185.43 153.52L186.97 154.64L191.20 151.57L195.43 154.64L196.97 153.52L195.35 148.55L199.59 145.48L199.00 143.67L193.77 143.67Z" fill="#fdae6b" fill-opacity="0.9" stroke="none"/>
<path d="M194.05 127.99L192.15 127.99L190.53 132.97L185.30 132.97L184.71 134.78L188.95 137.85L187.33 142.82L188.87 143.94L193.10 140.87L197.33 143.94L198.87 142.82L197.25 137.85L201.49 134.78L200.90 132.97L195.67 132.97Z" fill="#fdae6b" fill-opacity="0.9" stroke="none"/>
<path d="M196.85 113.09L194.95 113.09L193.33 118.07L188.10 118.07L187.51 119.88L191.75 122.95L190.13 127.92L191.67 129.04L195.90 125.97L200.13 129.04L201.67 127.92L200.05 122.95L204.29 119.88L203.70 118.07L198.47 118.07Z" fill="#fdae6b" fill-opacity="0.9" stroke="none"/>
<path d="M199.95 100.19L198.05 100.19L196.43 105.17L191.20 105.17L190.61 106.98L194.85 110.05L193.23 115.02L194.77 116.14L199.00 113.07L203.23 116.14L204.77 115.02L203.15 110.05L207.39 106.98L206.80 105.17L201.57 105.17Z" fill="#fdae6b" fill-opacity="0.9" stroke="none"/>
<path d="M202.75 90.19L200.85 90.19L199.23 95.17L194.00 95.17L193.41 96.98L197.65 100.05L196.03 105.02L197.57 106.14L201.80 103.07L206.03 106.14L207.57 105.02L205.95 100.05L210.19 96.98L209.60 95.17L204.37 95.17Z" fill="#fdae6b" fill-opacity="0.9" stroke="none"/>
<path d="M205.75 81.89L203.85 81.89L202.23 86.87L197.00 86.87L196.41 88.68L200.65 91.75L199.03 96.72L200.57 97.84L204.80 94.77L209.03 97.84L210.57 96.72L208.95 91.75L213.19 88.68L212.60 86.87L207.37 86.87Z" fill="#fdae6b" fill-opacity="0.9" stroke="none"/>
<path d="M208.75 76.09L206.85 76.09L205.23 81.07L200.00 81.07L199.41 82.88L203.65 85.95L202.03 90.92L203.57 92.04L207.80 88.97L212.03 92.04L213.57 90.92L211.95 85.95L216.19 82.88L215.60 81.07L210.37 81.07Z" fill="#fdae6b" fill-opacity="0.9" stroke="none"/>
<path d="M211.55 73.19L209.65 73.19L208.03 78.17L202.80 78.17L202.21 79.98L206.45 83.05L204.83 88.02L206.37 89.14L210.60 86.07L214.83 89.14L216.37 88.02L214.75 83.05L218.99 79.98L218.40 78.17L213.17 78.17Z" fill="#fdae6b" fill-opacity="0.9" stroke="none"/>
<path d="M214.05 71.99L212.15 71.99L210.53 76.97L205.30 76.97L204.71 78.78L208.95 81.85L207.33 86.82L208.87 87.94L213.10 84.87L217.33 87.94L218.87 86.82L217.25 81.85L221.49 78.78L220.90 76.97L215.67 76.97Z" fill="#fdae6b" fill-opacity="0.9" stroke="none"/>
<path d="M229.05 78.29L227.15 78.29L225.53 83.27L220.30 83.27L219.71 85.08L223.95 88.15L222.33 93.12L223.87 94.24L228.10 91.17L232.33 94.24L233.87 93.12L232.25 88.15L236.49 85.08L235.90 83.27L230.67 83.27Z" fill="#fdae6b" fill-opacity="0.9" stroke="none"/>
<path d="M243.75 83.89L241.85 83.89L240.23 88.87L235.00 88.87L234.41 90.68L238.65 93.75L237.03 98.72L238.57 99.84L242.80 96.77L247.03 99.84L248.57 98.72L246.95 93.75L251.19 90.68L250.60 88.87L245.37 88.87Z" fill="#fdae6b" fill-opacity="0.9" stroke="none"/>
<path d="M250.15 85.79L248.25 85.79L246.63 90.77L241.40 90.77L240.81 92.58L245.05 95.65L243.43 100.62L244.97 101.74L249.20 98.67L253.43 101.74L254.97 100.62L253.35 95.65L257.59 92.58L257.00 90.77L251.77 90.77Z" fill="#fdae6b" fill-opacity="0.9" stroke="none"/>
<path d="M264.95 87.89L263.05 87.89L261.43 92.87L256.20 92.87L255.61 94.68L259.85 97.75L258.23 102.72L259.77 103.84L264.00 100.77L268.23 103.84L269.77 102.72L268.15 97.75L272.39 94.68L271.80 92.87L266.57 92.87Z" fill="#fdae6b" fill-opacity="0.9" stroke="none"/>
<path d="M279.95 89.49L278.05 89.49L276.43 94.47L271.20 94.47L270.61 96.28L274.85 99.35L273.23 104.32L274.77 105.44L279.00 102.37L283.23 105.44L284.77 104.32L283.15 99.35L287.39 96.28L286.80 94.47L281.57 94.47Z" fill="#fdae6b" fill-opacity="0.9" stroke="none"/>
<path d="M286.55 89.89L284.65 89.89L283.03 94.87L277.80 94.87L277.21 96.68L281.45 99.75L279.83 104.72L281.37 105.84L285.60 102.77L289.83 105.84L291.37 104.72L289.75 99.75L293.99 96.68L293.40 94.87L288.17 94.87Z" fill="#fdae6b" fill-opacity="0.9" stroke="none"/>
<path d="M301.35 89.86L299.45 89.86L297.83 94.84L292.60 94.84L292.01 96.65L296.25 99.72L294.63 104.70L296.17 105.82L300.40 102.74L304.63 105.82L306.17 104.70L304.55 99.72L308.79 96.65L308.20 94.84L302.97 94.84Z" fill="#fdae6b" fill-opacity="0.9" stroke="none"/>
<path d="M307.85 89.83L305.95 89.83L304.33 94.81L299.10 94.81L298.51 96.62L302.75 99.69L301.13 104.67L302.67 105.78L306.90 102.71L311.13 105.78L312.67 104.67L311.05 99.69L315.29 96.62L314.70 94.81L309.47 94.81Z" fill="#fdae6b" fill-opacity="0.9" stroke="none"/>
<path d="M322.65 89.76L320.75 89.76L319.13 94.73L313.90 94.73L313.31 96.54L317.55 99.62L315.93 104.59L317.47 105.71L321.70 102.63L325.93 105.71L327.47 104.59L325.85 99.62L330.09 96.54L329.50 94.73L324.27 94.73Z" fill="#fdae6b" fill-opacity="0.9" stroke="none"/>
<path d="M337.15 89.68L335.25 89.68L333.63 94.66L328.40 94.66L327.81 96.47L332.05 99.54L330.43 104.52L331.97 105.64L336.20 102.56L340.43 105.64L341.97 104.52L340.35 99.54L344.59 96.47L344.00 94.66L338.77 94.66Z" fill="#fdae6b" fill-opacity="0.9" stroke="none"/>
<path d="M351.45 89.61L349.55 89.61L347.93 94.59L342.70 94.59L342.11 96.40L346.35 99.47L344.73 104.45L346.27 105.57L350.50 102.49L354.73 105.57L356.27 104.45L354.65 99.47L358.89 96.40L358.30 94.59L353.07 94.59Z" fill="#fdae6b" fill-opacity="0.9" stroke="none"/>
<path d="M366.05 89.54L364.15 89.54L362.53 94.52L357.30 94.52L356.71 96.32L360.95 99.40L359.33 104.37L360.87 105.49L365.10 102.42L369.33 105.49L370.87 104.37L369.25 99.40L373.49 96.32L372.90 94.52L367.67 94.52Z" fill="#fdae6b" fill-opacity="0.9" stroke="none"/>
<path d="M380.15 89.47L378.25 89.47L376.63 94.45L371.40 94.45L370.81 96.25L375.05 99.33L373.43 104.30L374.97 105.42L379.20 102.35L383.43 105.42L384.97 104.30L383.35 99.33L387.59 96.25L387.00 94.45L381.77 94.45Z" fill="#fdae6b" fill-opacity="0.9" stroke="none"/>
<path d="M394.95 89.40L393.05 89.40L391.43 94.37L386.20 94.37L385.61 96.18L389.85 99.25L388.23 104.23L389.77 105.35L394.00 102.27L398.23 105.35L399.77 104.23L398.15 99.25L402.39 96.18L401.80 94.37L396.57 94.37Z" fill="#fdae6b" fill-opacity="0.9" stroke="none"/>
<path d="M409.45 89.32L407.55 89.32L405.93 94.30L400.70 94.30L400.11 96.11L404.35 99.18L402.73 104.16L404.27 105.28L408.50 102.20L412.73 105.28L414.27 104.16L412.65 99.18L416.89 96.11L416.30 94.30L411.07 94.30Z" fill="#fdae6b" fill-opacity="0.9" stroke="none"/>
<path d="M423.65 89.25L421.75 89.25L420.13 94.23L414.90 94.23L414.31 96.04L418.55 99.11L416.93 104.09L418.47 105.20L422.70 102.13L426.93 105.20L428.47 104.09L426.85 99.11L431.09 96.04L430.50 94.23L425.27 94.23Z" fill="#fdae6b" fill-opacity="0.9" stroke="none"/>
<path d="M438.15 89.18L436.25 89.18L434.63 94.16L429.40 94.16L428.81 95.96L433.05 99.04L431.43 104.01L432.97 105.13L437.20 102.06L441.43 105.13L442.97 104.01L441.35 99.04L445.59 95.96L445.00 94.16L439.77 94.16Z" fill="#fdae6b" fill-opacity="0.9" stroke="none"/>
<path d="M452.35 89.11L450.45 89.11L448.83 94.08L443.60 94.08L443.01 95.89L447.25 98.97L445.63 103.94L447.17 105.06L451.40 101.99L455.63 105.06L457.17 103.94L455.55 98.97L459.79 95.89L459.20 94.08L453.97 94.08Z" fill="#fdae6b" fill-opacity="0.9" stroke="none"/>
<path d="M466.85 89.04L464.95 89.04L463.33 94.01L458.10 94.01L457.51 95.82L461.75 98.90L460.13 103.87L461.67 104.99L465.90 101.91L470.13 104.99L471.67 103.87L470.05 98.90L474.29 95.82L473.70 94.01L468.47 94.01Z" fill="#fdae6b" fill-opacity="0.9" stroke="none"/>
<path d="M481.55 88.96L479.65 88.96L478.03 93.94L472.80 93.94L472.21 95.75L476.45 98.82L474.83 103.80L476.37 104.91L480.60 101.84L484.83 104.91L486.37 103.80L484.75 98.82L488.99 95.75L488.40 93.94L483.17 93.94Z" fill="#fdae6b" fill-opacity="0.9" stroke="none"/>
<path d="M495.75 88.89L493.85 88.89L492.23 93.87L487.00 93.87L486.41 95.68L490.65 98.75L489.03 103.73L490.57 104.84L494.80 101.77L499.03 104.84L500.57 103.73L498.95 98.75L503.19 95.68L502.60 93.87L497.37 93.87Z" fill="#fdae6b" fill-opacity="0.9" stroke="none"/>
<path d="M510.25 88.82L508.35 88.82L506.73 93.79L501.50 93.79L500.91 95.60L505.15 98.68L503.53 103.65L505.07 104.77L509.30 101.70L513.53 104.77L515.07 103.65L513.45 98.68L517.69 95.60L517.10 93.79L511.87 93.79Z" fill="#fdae6b" fill-opacity="0.9" stroke="none"/>
<path d="M524.65 88.75L522.75 88.75L521.13 93.72L515.90 93.72L515.31 95.53L519.55 98.61L517.93 103.58L519.47 104.70L523.70 101.62L527.93 104.70L529.47 103.58L527.85 98.61L532.09 95.53L531.50 93.72L526.27 93.72Z" fill="#fdae6b" fill-opacity="0.9" stroke="none"/>
<path d="M539.15 88.67L537.25 88.67L535.63 93.65L530.40 93.65L529.81 95.46L534.05 98.53L532.43 103.51L533.97 104.63L538.20 101.55L542.43 104.63L543.97 103.51L542.35 98.53L546.59 95.46L546.00 93.65L540.77 93.65Z" fill="#fdae6b" fill-opacity="0.9" stroke="none"/>
<path d="M553.95 88.60L552.05 88.60L550.43 93.58L545.20 93.58L544.61 95.39L548.85 98.46L547.23 103.43L548.77 104.55L553.00 101.48L557.23 104.55L558.77 103.43L557.15 98.46L561.39 95.39L560.80 93.58L555.57 93.58Z" fill="#fdae6b" fill-opacity="0.9" stroke="none"/>
<path d="M568.15 88.53L566.25 88.53L564.63 93.51L559.40 93.51L558.81 95.31L563.05 98.39L561.43 103.36L562.97 104.48L567.20 101.41L571.43 104.48L572.97 103.36L571.35 98.39L575.59 95.31L575.00 93.51L569.77 93.51Z" fill="#fdae6b" fill-opacity="0.9" stroke="none"/>
<path d="M582.85 88.46L580.95 88.46L579.33 93.43L574.10 93.43L573.51 95.24L577.75 98.32L576.13 103.29L577.67 104.41L581.90 101.33L586.13 104.41L587.67 103.29L586.05 98.32L590.29 95.24L589.70 93.43L584.47 93.43Z" fill="#fdae6b" fill-opacity="0.9" stroke="none"/>
<path d="M597.55 88.38L595.65 88.38L594.03 93.36L588.80 93.36L588.21 95.17L592.45 98.24L590.83 103.22L592.37 104.33L596.60 101.26L600.83 104.33L602.37 103.22L600.75 98.24L604.99 95.17L604.40 93.36L599.17 93.36Z" fill="#fdae6b" fill-opacity="0.9" stroke="none"/>
<path d="M611.85 88.31L609.95 88.31L608.33 93.29L603.10 93.29L602.51 95.10L606.75 98.17L605.13 103.15L606.67 104.26L610.90 101.19L615.13 104.26L616.67 103.15L615.05 98.17L619.29 95.10L618.70 93.29L613.47 93.29Z" fill="#fdae6b" fill-opacity="0.9" stroke="none"/>
<path d="M626.35 88.24L624.45 88.24L622.83 93.21L617.60 93.21L617.01 95.02L621.25 98.10L619.63 103.07L621.17 104.19L625.40 101.12L629.63 104.19L631.17 103.07L629.55 98.10L633.79 95.02L633.20 93.21L627.97 93.21Z" fill="#fdae6b" fill-opacity="0.9" stroke="none"/>
<path d="M640.75 88.17L638.85 88.17L637.23 93.14L632.00 93.14L631.41 94.95L635.65 98.03L634.03 103.00L635.57 104.12L639.80 101.04L644.03 104.12L645.57 103.00L643.95 98.03L648.19 94.95L647.60 93.14L642.37 93.14Z" fill="#fdae6b" fill-opacity="0.9" stroke="none"/>
<path d="M655.45 88.09L653.55 88.09L651.93 93.07L646.70 93.07L646.11 94.88L650.35 97.95L648.73 102.93L650.27 104.05L654.50 100.97L658.73 104.05L660.27 102.93L658.65 97.95L662.89 94.88L662.30 93.07L657.07 93.07Z" fill="#fdae6b" fill-opacity="0.9" stroke="none"/>
<path d="M670.25 88.02L668.35 88.02L666.73 92.99L661.50 92.99L660.91 94.80L665.15 97.88L663.53 102.85L665.07 103.97L669.30 100.90L673.53 103.97L675.07 102.85L673.45 97.88L677.69 94.80L677.10 92.99L671.87 92.99Z" fill="#fdae6b" fill-opacity="0.9" stroke="none"/>
<path d="M684.85 87.95L682.95 87.95L681.33 92.92L676.10 92.92L675.51 94.73L679.75 97.81L678.13 102.78L679.67 103.90L683.90 100.82L688.13 103.90L689.67 102.78L688.05 97.81L692.29 94.73L691.70 92.92L686.47 92.92Z" fill="#fdae6b" fill-opacity="0.9" stroke="none"/>
<path d="M699.55 87.87L697.65 87.87L696.03 92.85L690.80 92.85L690.21 94.66L694.45 97.73L692.83 102.71L694.37 103.82L698.60 100.75L702.83 103.82L704.37 102.71L702.75 97.73L706.99 94.66L706.40 92.85L701.17 92.85Z" fill="#fdae6b" fill-opacity="0.9" stroke="none"/>
<path d="M714.15 87.80L712.25 87.80L710.63 92.78L705.40 92.78L704.81 94.58L709.05 97.66L707.43 102.63L708.97 103.75L713.20 100.68L717.43 103.75L718.97 102.63L717.35 97.66L721.59 94.58L721.00 92.78L715.77 92.78Z" fill="#fdae6b" fill-opacity="0.9" stroke="none"/>
<path d="M728.75 87.73L726.85 87.73L725.23 92.70L720.00 92.70L719.41 94.51L723.65 97.59L722.03 102.56L723.57 103.68L727.80 100.60L732.03 103.68L733.57 102.56L731.95 97.59L736.19 94.51L735.60 92.70L730.37 92.70Z" fill="#fdae6b" fill-opacity="0.9" stroke="none"/>
<path d="M196.20 570.00L198.75 551.00L201.00 545.70L203.80 528.10L207.60 509.30L210.40 491.70L213.10 478.50L227.40 465.30L242.90 462.00L249.50 460.60L263.80 455.50L279.30 452.40L285.90 451.20L300.40 446.30L307.00 445.00L321.80 439.80L336.20 438.00L350.60 438.80L365.20 438.60L379.30 437.80L393.90 436.80L408.30 436.10L422.80 439.40L437.20 441.40L451.40 441.30L466.00 441.50L480.80 439.70L494.80 438.80L509.40 439.60L523.70 438.80L538.30 438.60L552.90 438.60L567.40 439.50L582.00 440.70L596.50 439.50L611.10 437.70L625.50 437.05L639.80 437.60L654.60 438.90L669.30 439.70L683.90 440.20L698.50 440.10L712.80 438.90L727.40 438.20" stroke="#a1d99b" stroke-width="4.17" stroke-opacity="0.7"/>
<path d="M201.95 537.19L200.05 537.19L198.43 542.17L193.20 542.17L192.61 543.98L196.85 547.05L195.23 552.02L196.77 553.14L201.00 550.07L205.23 553.14L206.77 552.02L205.15 547.05L209.39 543.98L208.80 542.17L203.57 542.17Z" fill="#a1d99b" fill-opacity="0.9" stroke="none"/>
<path d="M204.75 519.59L202.85 519.59L201.23 524.57L196.00 524.57L195.41 526.38L199.65 529.45L198.03 534.42L199.57 535.54L203.80 532.47L208.03 535.54L209.57 534.42L207.95 529.45L212.19 526.38L211.60 524.57L206.37 524.57Z" fill="#a1d99b" fill-opacity="0.9" stroke="none"/>
<path d="M208.55 500.79L206.65 500.79L205.03 505.77L199.80 505.77L199.21 507.58L203.45 510.65L201.83 515.62L203.37 516.74L207.60 513.67L211.83 516.74L213.37 515.62L211.75 510.65L215.99 507.58L215.40 505.77L210.17 505.77Z" fill="#a1d99b" fill-opacity="0.9" stroke="none"/>
<path d="M211.35 483.19L209.45 483.19L207.83 488.17L202.60 488.17L202.01 489.98L206.25 493.05L204.63 498.02L206.17 499.14L210.40 496.07L214.63 499.14L216.17 498.02L214.55 493.05L218.79 489.98L218.20 488.17L212.97 488.17Z" fill="#a1d99b" fill-opacity="0.9" stroke="none"/>
<path d="M214.05 469.99L212.15 469.99L210.53 474.97L205.30 474.97L204.71 476.78L208.95 479.85L207.33 484.82L208.87 485.94L213.10 482.87L217.33 485.94L218.87 484.82L217.25 479.85L221.49 476.78L220.90 474.97L215.67 474.97Z" fill="#a1d99b" fill-opacity="0.9" stroke="none"/>
<path d="M228.35 456.79L226.45 456.79L224.83 461.77L219.60 461.77L219.01 463.58L223.25 466.65L221.63 471.62L223.17 472.74L227.40 469.67L231.63 472.74L233.17 471.62L231.55 466.65L235.79 463.58L235.20 461.77L229.97 461.77Z" fill="#a1d99b" fill-opacity="0.9" stroke="none"/>
<path d="M243.85 453.49L241.95 453.49L240.33 458.47L235.10 458.47L234.51 460.28L238.75 463.35L237.13 468.32L238.67 469.44L242.90 466.37L247.13 469.44L248.67 468.32L247.05 463.35L251.29 460.28L250.70 458.47L245.47 458.47Z" fill="#a1d99b" fill-opacity="0.9" stroke="none"/>
<path d="M250.45 452.09L248.55 452.09L246.93 457.07L241.70 457.07L241.11 458.88L245.35 461.95L243.73 466.92L245.27 468.04L249.50 464.97L253.73 468.04L255.27 466.92L253.65 461.95L257.89 458.88L257.30 457.07L252.07 457.07Z" fill="#a1d99b" fill-opacity="0.9" stroke="none"/>
<path d="M264.75 446.99L262.85 446.99L261.23 451.97L256.00 451.97L255.41 453.78L259.65 456.85L258.03 461.82L259.57 462.94L263.80 459.87L268.03 462.94L269.57 461.82L267.95 456.85L272.19 453.78L271.60 451.97L266.37 451.97Z" fill="#a1d99b" fill-opacity="0.9" stroke="none"/>
<path d="M280.25 443.89L278.35 443.89L276.73 448.87L271.50 448.87L270.91 450.68L275.15 453.75L273.53 458.72L275.07 459.84L279.30 456.77L283.53 459.84L285.07 458.72L283.45 453.75L287.69 450.68L287.10 448.87L281.87 448.87Z" fill="#a1d99b" fill-opacity="0.9" stroke="none"/>
<path d="M286.85 442.69L284.95 442.69L283.33 447.67L278.10 447.67L277.51 449.48L281.75 452.55L280.13 457.52L281.67 458.64L285.90 455.57L290.13 458.64L291.67 457.52L290.05 452.55L294.29 449.48L293.70 447.67L288.47 447.67Z" fill="#a1d99b" fill-opacity="0.9" stroke="none"/>
<path d="M301.35 437.79L299.45 437.79L297.83 442.77L292.60 442.77L292.01 444.58L296.25 447.65L294.63 452.62L296.17 453.74L300.40 450.67L304.63 453.74L306.17 452.62L304.55 447.65L308.79 444.58L308.20 442.77L302.97 442.77Z" fill="#a1d99b" fill-opacity="0.9" stroke="none"/>
<path d="M307.95 436.49L306.05 436.49L304.43 441.47L299.20 441.47L298.61 443.28L302.85 446.35L301.23 451.32L302.77 452.44L307.00 449.37L311.23 452.44L312.77 451.32L311.15 446.35L315.39 443.28L314.80 441.47L309.57 441.47Z" fill="#a1d99b" fill-opacity="0.9" stroke="none"/>
<path d="M322.75 431.29L320.85 431.29L319.23 436.27L314.00 436.27L313.41 438.08L317.65 441.15L316.03 446.12L317.57 447.24L321.80 444.17L326.03 447.24L327.57 446.12L325.95 441.15L330.19 438.08L329.60 436.27L324.37 436.27Z" fill="#a1d99b" fill-opacity="0.9" stroke="none"/>
<path d="M337.15 429.49L335.25 429.49L333.63 434.47L328.40 434.47L327.81 436.28L332.05 439.35L330.43 444.32L331.97 445.44L336.20 442.37L340.43 445.44L341.97 444.32L340.35 439.35L344.59 436.28L344.00 434.47L338.77 434.47Z" fill="#a1d99b" fill-opacity="0.9" stroke="none"/>
<path d="M351.55 430.29L349.65 430.29L348.03 435.27L342.80 435.27L342.21 437.08L346.45 440.15L344.83 445.12L346.37 446.24L350.60 443.17L354.83 446.24L356.37 445.12L354.75 440.15L358.99 437.08L358.40 435.27L353.17 435.27Z" fill="#a1d99b" fill-opacity="0.9" stroke="none"/>
<path d="M366.15 430.09L364.25 430.09L362.63 435.07L357.40 435.07L356.81 436.88L361.05 439.95L359.43 444.92L360.97 446.04L365.20 442.97L369.43 446.04L370.97 444.92L369.35 439.95L373.59 436.88L373.00 435.07L367.77 435.07Z" fill="#a1d99b" fill-opacity="0.9" stroke="none"/>
<path d="M380.25 429.29L378.35 429.29L376.73 434.27L371.50 434.27L370.91 436.08L375.15 439.15L373.53 444.12L375.07 445.24L379.30 442.17L383.53 445.24L385.07 444.12L383.45 439.15L387.69 436.08L387.10 434.27L381.87 434.27Z" fill="#a1d99b" fill-opacity="0.9" stroke="none"/>
<path d="M394.85 428.29L392.95 428.29L391.33 433.27L386.10 433.27L385.51 435.08L389.75 438.15L388.13 443.12L389.67 444.24L393.90 441.17L398.13 444.24L399.67 443.12L398.05 438.15L402.29 435.08L401.70 433.27L396.47 433.27Z" fill="#a1d99b" fill-opacity="0.9" stroke="none"/>
<path d="M409.25 427.59L407.35 427.59L405.73 432.57L400.50 432.57L399.91 434.38L404.15 437.45L402.53 442.42L404.07 443.54L408.30 440.47L412.53 443.54L414.07 442.42L412.45 437.45L416.69 434.38L416.10 432.57L410.87 432.57Z" fill="#a1d99b" fill-opacity="0.9" stroke="none"/>
<path d="M423.75 430.89L421.85 430.89L420.23 435.87L415.00 435.87L414.41 437.68L418.65 440.75L417.03 445.72L418.57 446.84L422.80 443.77L427.03 446.84L428.57 445.72L426.95 440.75L431.19 437.68L430.60 435.87L425.37 435.87Z" fill="#a1d99b" fill-opacity="0.9" stroke="none"/>
<path d="M438.15 432.89L436.25 432.89L434.63 437.87L429.40 437.87L428.81 439.68L433.05 442.75L431.43 447.72L432.97 448.84L437.20 445.77L441.43 448.84L442.97 447.72L441.35 442.75L445.59 439.68L445.00 437.87L439.77 437.87Z" fill="#a1d99b" fill-opacity="0.9" stroke="none"/>
<path d="M452.35 432.79L450.45 432.79L448.83 437.77L443.60 437.77L443.01 439.58L447.25 442.65L445.63 447.62L447.17 448.74L451.40 445.67L455.63 448.74L457.17 447.62L455.55 442.65L459.79 439.58L459.20 437.77L453.97 437.77Z" fill="#a1d99b" fill-opacity="0.9" stroke="none"/>
<path d="M466.95 432.99L465.05 432.99L463.43 437.97L458.20 437.97L457.61 439.78L461.85 442.85L460.23 447.82L461.77 448.94L466.00 445.87L470.23 448.94L471.77 447.82L470.15 442.85L474.39 439.78L473.80 437.97L468.57 437.97Z" fill="#a1d99b" fill-opacity="0.9" stroke="none"/>
<path d="M481.75 431.19L479.85 431.19L478.23 436.17L473.00 436.17L472.41 437.98L476.65 441.05L475.03 446.02L476.57 447.14L480.80 444.07L485.03 447.14L486.57 446.02L484.95 441.05L489.19 437.98L488.60 436.17L483.37 436.17Z" fill="#a1d99b" fill-opacity="0.9" stroke="none"/>
<path d="M495.75 430.29L493.85 430.29L492.23 435.27L487.00 435.27L486.41 437.08L490.65 440.15L489.03 445.12L490.57 446.24L494.80 443.17L499.03 446.24L500.57 445.12L498.95 440.15L503.19 437.08L502.60 435.27L497.37 435.27Z" fill="#a1d99b" fill-opacity="0.9" stroke="none"/>
<path d="M510.35 431.09L508.45 431.09L506.83 436.07L501.60 436.07L501.01 437.88L505.25 440.95L503.63 445.92L505.17 447.04L509.40 443.97L513.63 447.04L515.17 445.92L513.55 440.95L517.79 437.88L517.20 436.07L511.97 436.07Z" fill="#a1d99b" fill-opacity="0.9" stroke="none"/>
<path d="M524.65 430.29L522.75 430.29L521.13 435.27L515.90 435.27L515.31 437.08L519.55 440.15L517.93 445.12L519.47 446.24L523.70 443.17L527.93 446.24L529.47 445.12L527.85 440.15L532.09 437.08L531.50 435.27L526.27 435.27Z" fill="#a1d99b" fill-opacity="0.9" stroke="none"/>
<path d="M539.25 430.09L537.35 430.09L535.73 435.07L530.50 435.07L529.91 436.88L534.15 439.95L532.53 444.92L534.07 446.04L538.30 442.97L542.53 446.04L544.07 444.92L542.45 439.95L546.69 436.88L546.10 435.07L540.87 435.07Z" fill="#a1d99b" fill-opacity="0.9" stroke="none"/>
<path d="M553.85 430.09L551.95 430.09L550.33 435.07L545.10 435.07L544.51 436.88L548.75 439.95L547.13 444.92L548.67 446.04L552.90 442.97L557.13 446.04L558.67 444.92L557.05 439.95L561.29 436.88L560.70 435.07L555.47 435.07Z" fill="#a1d99b" fill-opacity="0.9" stroke="none"/>
<path d="M568.35 430.99L566.45 430.99L564.83 435.97L559.60 435.97L559.01 437.78L563.25 440.85L561.63 445.82L563.17 446.94L567.40 443.87L571.63 446.94L573.17 445.82L571.55 440.85L575.79 437.78L575.20 435.97L569.97 435.97Z" fill="#a1d99b" fill-opacity="0.9" stroke="none"/>
<path d="M582.95 432.19L581.05 432.19L579.43 437.17L574.20 437.17L573.61 438.98L577.85 442.05L576.23 447.02L577.77 448.14L582.00 445.07L586.23 448.14L587.77 447.02L586.15 442.05L590.39 438.98L589.80 437.17L584.57 437.17Z" fill="#a1d99b" fill-opacity="0.9" stroke="none"/>
<path d="M597.45 430.99L595.55 430.99L593.93 435.97L588.70 435.97L588.11 437.78L592.35 440.85L590.73 445.82L592.27 446.94L596.50 443.87L600.73 446.94L602.27 445.82L600.65 440.85L604.89 437.78L604.30 435.97L599.07 435.97Z" fill="#a1d99b" fill-opacity="0.9" stroke="none"/>
<path d="M612.05 429.19L610.15 429.19L608.53 434.17L603.30 434.17L602.71 435.98L606.95 439.05L605.33 444.02L606.87 445.14L611.10 442.07L615.33 445.14L616.87 444.02L615.25 439.05L619.49 435.98L618.90 434.17L613.67 434.17Z" fill="#a1d99b" fill-opacity="0.9" stroke="none"/>
<path d="M626.45 428.54L624.55 428.54L622.93 433.52L617.70 433.52L617.11 435.33L621.35 438.40L619.73 443.37L621.27 444.49L625.50 441.42L629.73 444.49L631.27 443.37L629.65 438.40L633.89 435.33L633.30 433.52L628.07 433.52Z" fill="#a1d99b" fill-opacity="0.9" stroke="none"/>
<path d="M640.75 429.09L638.85 429.09L637.23 434.07L632.00 434.07L631.41 435.88L635.65 438.95L634.03 443.92L635.57 445.04L639.80 441.97L644.03 445.04L645.57 443.92L643.95 438.95L648.19 435.88L647.60 434.07L642.37 434.07Z" fill="#a1d99b" fill-opacity="0.9" stroke="none"/>
<path d="M655.55 430.39L653.65 430.39L652.03 435.37L646.80 435.37L646.21 437.18L650.45 440.25L648.83 445.22L650.37 446.34L654.60 443.27L658.83 446.34L660.37 445.22L658.75 440.25L662.99 437.18L662.40 435.37L657.17 435.37Z" fill="#a1d99b" fill-opacity="0.9" stroke="none"/>
<path d="M670.25 431.19L668.35 431.19L666.73 436.17L661.50 436.17L660.91 437.98L665.15 441.05L663.53 446.02L665.07 447.14L669.30 444.07L673.53 447.14L675.07 446.02L673.45 441.05L677.69 437.98L677.10 436.17L671.87 436.17Z" fill="#a1d99b" fill-opacity="0.9" stroke="none"/>
<path d="M684.85 431.69L682.95 431.69L681.33 436.67L676.10 436.67L675.51 438.48L679.75 441.55L678.13 446.52L679.67 447.64L683.90 444.57L688.13 447.64L689.67 446.52L688.05 441.55L692.29 438.48L691.70 436.67L686.47 436.67Z" fill="#a1d99b" fill-opacity="0.9" stroke="none"/>
<path d="M699.45 431.59L697.55 431.59L695.93 436.57L690.70 436.57L690.11 438.38L694.35 441.45L692.73 446.42L694.27 447.54L698.50 444.47L702.73 447.54L704.27 446.42L702.65 441.45L706.89 438.38L706.30 436.57L701.07 436.57Z" fill="#a1d99b" fill-opacity="0.9" stroke="none"/>
<path d="M713.75 430.39L711.85 430.39L710.23 435.37L705.00 435.37L704.41 437.18L708.65 440.25L707.03 445.22L708.57 446.34L712.80 443.27L717.03 446.34L718.57 445.22L716.95 440.25L721.19 437.18L720.60 435.37L715.37 435.37Z" fill="#a1d99b" fill-opacity="0.9" stroke="none"/>
<path d="M728.35 429.69L726.45 429.69L724.83 434.67L719.60 434.67L719.01 436.48L723.25 439.55L721.63 444.52L723.17 445.64L727.40 442.57L731.63 445.64L733.17 444.52L731.55 439.55L735.79 436.48L735.20 434.67L729.97 434.67Z" fill="#a1d99b" fill-opacity="0.9" stroke="none"/>
</g>
<rect x="87.1" y="48.65" width="629.0" height="502.70000000000005" fill="none" stroke="#000" stroke-width="3.3" stroke-linejoin="miter"/>
<g opacity="0.999" stroke="#000" stroke-linejoin="round">
<text transform="translate(321.43 39.02) scale(1.0832 1)" font-family="'Liberation Serif', serif" font-size="35.77" stroke-width="0.55" fill="#000">2D MTI</text>
<text transform="translate(115.45 579.90) scale(1.1330 1)" font-family="'Liberation Serif', serif" font-size="31.42" stroke-width="0.55" fill="#000">0</text>
<text transform="translate(254.78 579.90) scale(1.1088 1)" font-family="'Liberation Serif', serif" font-size="31.42" stroke-width="0.55" fill="#000">20</text>
<text transform="translate(402.36 579.90) scale(1.1360 1)" font-family="'Liberation Serif', serif" font-size="31.42" stroke-width="0.55" fill="#000">40</text>
<text transform="translate(549.95 579.90) scale(1.1365 1)" font-family="'Liberation Serif', serif" font-size="31.42" stroke-width="0.55" fill="#000">60</text>
<text transform="translate(698.16 579.90) scale(1.1261 1)" font-family="'Liberation Serif', serif" font-size="31.42" stroke-width="0.55" fill="#000">80</text>
<text transform="translate(395.43 614.60) scale(1.2436 1)" font-family="'Liberation Sans', sans-serif" font-style="italic" font-size="30.00" stroke-width="0.2" fill="#000">t</text>
<text transform="translate(14.04 536.61) scale(1.1546 1)" font-family="'Liberation Serif', serif" font-size="30.66" stroke-width="0.55" fill="#000">10</text>
<text transform="translate(51.28 529.50) scale(0.8865 1)" font-family="'Liberation Serif', serif" font-size="27.00" stroke-width="0.55" fill="#000">−</text>
<text transform="translate(66.21 526.41) scale(1.2048 1)" font-family="'Liberation Serif', serif" font-size="21.14" stroke-width="0.55" fill="#000">9</text>
<text transform="translate(14.04 455.59) scale(1.1546 1)" font-family="'Liberation Serif', serif" font-size="30.66" stroke-width="0.55" fill="#000">10</text>
<text transform="translate(51.28 448.48) scale(0.8865 1)" font-family="'Liberation Serif', serif" font-size="27.00" stroke-width="0.55" fill="#000">−</text>
<text transform="translate(65.93 445.19) scale(1.2522 1)" font-family="'Liberation Serif', serif" font-size="20.82" stroke-width="0.55" fill="#000">8</text>
<text transform="translate(14.04 374.57) scale(1.1546 1)" font-family="'Liberation Serif', serif" font-size="30.66" stroke-width="0.55" fill="#000">10</text>
<text transform="translate(51.28 367.46) scale(0.8865 1)" font-family="'Liberation Serif', serif" font-size="27.00" stroke-width="0.55" fill="#000">−</text>
<text transform="translate(65.06 364.59) scale(1.2755 1)" font-family="'Liberation Serif', serif" font-size="21.46" stroke-width="0.55" fill="#000">7</text>
<text transform="translate(14.04 293.55) scale(1.1546 1)" font-family="'Liberation Serif', serif" font-size="30.66" stroke-width="0.55" fill="#000">10</text>
<text transform="translate(51.28 286.44) scale(0.8865 1)" font-family="'Liberation Serif', serif" font-size="27.00" stroke-width="0.55" fill="#000">−</text>
<text transform="translate(65.96 283.15) scale(1.2231 1)" font-family="'Liberation Serif', serif" font-size="20.82" stroke-width="0.55" fill="#000">6</text>
<text transform="translate(14.04 212.53) scale(1.1546 1)" font-family="'Liberation Serif', serif" font-size="30.66" stroke-width="0.55" fill="#000">10</text>
<text transform="translate(51.28 205.41) scale(0.8865 1)" font-family="'Liberation Serif', serif" font-size="27.00" stroke-width="0.55" fill="#000">−</text>
<text transform="translate(65.33 202.33) scale(1.2952 1)" font-family="'Liberation Serif', serif" font-size="21.14" stroke-width="0.55" fill="#000">5</text>
<text transform="translate(14.04 131.51) scale(1.1546 1)" font-family="'Liberation Serif', serif" font-size="30.66" stroke-width="0.55" fill="#000">10</text>
<text transform="translate(51.28 124.39) scale(0.8865 1)" font-family="'Liberation Serif', serif" font-size="27.00" stroke-width="0.55" fill="#000">−</text>
<text transform="translate(66.50 121.53) scale(1.1092 1)" font-family="'Liberation Serif', serif" font-size="21.46" stroke-width="0.55" fill="#000">4</text>
</g>
<rect x="464.0" y="192.5" width="237.89999999999998" height="214.60000000000002" rx="5.6" ry="5.6" fill="#fff" fill-opacity="0.8" stroke="#ccc" stroke-opacity="0.8" stroke-width="2.0"/>
<g opacity="0.999" stroke="#000" stroke-linejoin="round">
<path d="M472.9 215.10H533.0" stroke="#3182bd" stroke-width="4.17"/>
<text transform="translate(552.99 223.40) scale(0.9320 1)" font-family="'Liberation Sans', sans-serif" font-style="italic" font-size="28.99" stroke-width="0.2" fill="#000">K</text>
<text transform="translate(580.45 223.12) scale(1.0923 1)" font-family="'Liberation Serif', serif" font-size="30.37" stroke-width="0.55" fill="#000">STS</text>
<path d="M472.9 247.60H533.0" stroke="#e6550d" stroke-width="4.17"/>
<text transform="translate(552.79 255.90) scale(0.9409 1)" font-family="'Liberation Sans', sans-serif" font-style="italic" font-size="28.99" stroke-width="0.2" fill="#000">U</text>
<text transform="translate(582.55 255.62) scale(1.0944 1)" font-family="'Liberation Serif', serif" font-size="30.37" stroke-width="0.55" fill="#000">STS</text>
<path d="M472.9 280.30H533.0" stroke="#31a354" stroke-width="4.17"/>
<text transform="translate(553.26 288.60) scale(0.9703 1)" font-family="'Liberation Sans', sans-serif" font-style="italic" font-size="28.99" stroke-width="0.2" fill="#000">M</text>
<text transform="translate(585.74 288.32) scale(1.0964 1)" font-family="'Liberation Serif', serif" font-size="30.37" stroke-width="0.55" fill="#000">STS</text>
<path d="M472.9 313.70H533.0" stroke="#9ecae1" stroke-width="4.17" stroke-opacity="0.7"/>
<path d="M503.90 305.19L502.00 305.19L500.38 310.17L495.15 310.17L494.56 311.98L498.80 315.05L497.18 320.02L498.72 321.14L502.95 318.07L507.18 321.14L508.72 320.02L507.10 315.05L511.34 311.98L510.75 310.17L505.52 310.17Z" fill="#9ecae1" fill-opacity="0.9" stroke="none"/>
<text transform="translate(552.99 322.00) scale(0.9320 1)" font-family="'Liberation Sans', sans-serif" font-style="italic" font-size="28.99" stroke-width="0.2" fill="#000">K</text>
<text transform="translate(579.79 321.97) scale(1.1414 1)" font-family="'Liberation Serif', serif" font-size="30.28" stroke-width="0.35" fill="#000">explicit</text>
<path d="M472.9 347.20H533.0" stroke="#fdae6b" stroke-width="4.17" stroke-opacity="0.7"/>
<path d="M503.90 338.69L502.00 338.69L500.38 343.67L495.15 343.67L494.56 345.48L498.80 348.55L497.18 353.52L498.72 354.64L502.95 351.57L507.18 354.64L508.72 353.52L507.10 348.55L511.34 345.48L510.75 343.67L505.52 343.67Z" fill="#fdae6b" fill-opacity="0.9" stroke="none"/>
<text transform="translate(552.79 355.50) scale(0.9409 1)" font-family="'Liberation Sans', sans-serif" font-style="italic" font-size="28.99" stroke-width="0.2" fill="#000">U</text>
<text transform="translate(583.10 355.47) scale(1.1347 1)" font-family="'Liberation Serif', serif" font-size="30.28" stroke-width="0.35" fill="#000">explicit</text>
<path d="M472.9 380.60H533.0" stroke="#a1d99b" stroke-width="4.17" stroke-opacity="0.7"/>
<path d="M503.90 372.09L502.00 372.09L500.38 377.07L495.15 377.07L494.56 378.88L498.80 381.95L497.18 386.92L498.72 388.04L502.95 384.97L507.18 388.04L508.72 386.92L507.10 381.95L511.34 378.88L510.75 377.07L505.52 377.07Z" fill="#a1d99b" fill-opacity="0.9" stroke="none"/>
<text transform="translate(553.26 388.90) scale(0.9703 1)" font-family="'Liberation Sans', sans-serif" font-style="italic" font-size="28.99" stroke-width="0.2" fill="#000">M</text>
<text transform="translate(585.78 388.87) scale(1.1492 1)" font-family="'Liberation Serif', serif" font-size="30.28" stroke-width="0.35" fill="#000">explicit</text>
</g>
</svg></body></html>
